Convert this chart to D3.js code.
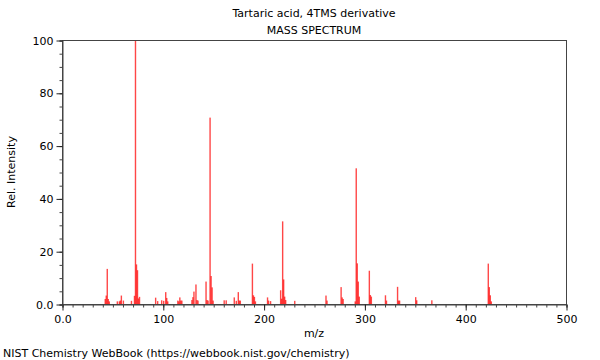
<!DOCTYPE html>
<html>
<head>
<meta charset="utf-8">
<script src="https://cdn.jsdelivr.net/npm/d3@7"></script>
<style>
body { margin: 0; background: #fff; }
text { font-family: "DejaVu Sans", sans-serif; }
</style>
</head>
<body>
<div id="chart"></div>
<script>
var mz = [43, 44, 45, 46, 47, 55, 57, 58, 59, 61, 69, 72, 73, 74, 75, 76, 77,
    93, 95, 99, 101, 103, 104, 105, 115, 116, 117, 118, 119, 129, 130, 131, 133, 134, 135,
    143, 144, 145, 147, 148, 149, 150, 161, 163, 171, 173, 175, 176, 177,
    189, 190, 191, 192, 204, 205, 207, 217, 218, 219, 220, 221, 222, 231,
    262, 263, 277, 278, 279, 291, 292, 293, 294, 295, 305, 306, 307,
    321, 322, 333, 334, 335, 351, 352, 367, 423, 424, 425, 426];
var intensity = [1.9, 3.2, 13.3, 1.9, 1.0, 1.0, 1.0, 1.3, 3.2, 1.3, 1.2, 3.1, 100, 15, 12.8, 2.1, 2.7,
    2.4, 1.1, 1.4, 1.2, 4.5, 2.3, 1.0, 1.3, 1.0, 2.5, 1.3, 1.3, 1.5, 2.6, 4.7, 7.4, 1.5, 1.3,
    8.5, 1.5, 1.3, 70.6, 10.6, 6.3, 1.3, 1.4, 1.4, 2.5, 1.2, 4.5, 1.3, 1.3,
    15.3, 3.3, 2.7, 1.0, 2.5, 1.3, 1.1, 5.2, 2.0, 31.3, 9.3, 2.8, 1.5, 1.2,
    3.2, 1.3, 6.4, 2.5, 1.9, 1.0, 51.4, 15.4, 8.5, 2.8, 12.6, 3.4, 2.8,
    3.3, 1.3, 6.5, 1.3, 1.3, 2.6, 1.4, 1.4, 15.3, 6.4, 3.3, 1.0];
var xTicks = [0, 100, 200, 300, 400, 500];
var xTickLabels = ["0.0", "100", "200", "300", "400", "500"];
var yTicks = [0, 20, 40, 60, 80, 100];
var yTickLabels = ["0.0", "20", "40", "60", "80", "100"];

var width = 600, height = 360;
var margin = { top: 40, left: 62, right: 34, bottom: 56 };
var plotW = width - margin.left - margin.right;
var plotH = height - margin.top - margin.bottom;

var svg = d3.select("#chart").append("svg")
    .attr("width", width)
    .attr("height", height);

var x = d3.scaleLinear().domain([0, 500]).range([margin.left, margin.left + plotW]);
var y = d3.scaleLinear().domain([0, 100]).range([margin.top + plotH, margin.top]);

// peaks
var peaks = mz.map(function(m, i) { return { m: m, v: intensity[i] }; });
svg.append("g")
    .selectAll("rect")
    .data(peaks)
    .enter()
    .append("rect")
    .attr("x", d => x(d.m) - 0.8)
    .attr("width", 1.4)
    .attr("y", d => y(d.v))
    .attr("height", d => y(0) - y(d.v))
    .attr("fill", "#ff0000")
    .attr("fill-opacity", 0.72);

// frame
svg.append("rect")
    .attr("x", margin.left + 0.5)
    .attr("y", margin.top + 0.5)
    .attr("width", plotW)
    .attr("height", plotH)
    .attr("fill", "none")
    .attr("stroke", "#444")
    .attr("stroke-width", 1);

// x axis
var xAxisMinor = d3.axisBottom(x).tickValues(d3.range(0, 501, 10)).tickSize(3).tickFormat("");
svg.append("g")
    .attr("transform", "translate(0.5," + (y(0) + 0.5) + ")")
    .call(xAxisMinor)
    .call(g => g.select(".domain").attr("stroke", "#444"))
    .call(g => g.selectAll(".tick line").attr("stroke", "#444"));

var xAxis = d3.axisBottom(x).tickValues(xTicks).tickSize(6)
    .tickFormat((d, i) => xTickLabels[i]);
svg.append("g")
    .attr("transform", "translate(0.5," + (y(0) + 0.5) + ")")
    .call(xAxis)
    .call(g => g.select(".domain").remove())
    .call(g => g.selectAll(".tick line").attr("stroke", "#222"))
    .call(g => g.selectAll(".tick text")
        .attr("font-size", 11).attr("font-family", "DejaVu Sans").attr("fill", "#000").attr("dy", "0.9em"));

// y axis
var yAxisMinor = d3.axisLeft(y).tickValues(d3.range(0, 101, 5)).tickSize(3).tickFormat("");
svg.append("g")
    .attr("transform", "translate(" + (x(0) + 0.5) + ",0.5)")
    .call(yAxisMinor)
    .call(g => g.select(".domain").attr("stroke", "#444"))
    .call(g => g.selectAll(".tick line").attr("stroke", "#444"));

var yAxis = d3.axisLeft(y).tickValues(yTicks).tickSize(6)
    .tickFormat((d, i) => yTickLabels[i]);
svg.append("g")
    .attr("transform", "translate(" + (x(0) + 0.5) + ",0.5)")
    .call(yAxis)
    .call(g => g.select(".domain").remove())
    .call(g => g.selectAll(".tick line").attr("stroke", "#222"))
    .call(g => g.selectAll(".tick text")
        .attr("font-size", 11).attr("font-family", "DejaVu Sans").attr("fill", "#000"));

// titles
svg.append("text")
    .attr("x", 314).attr("y", 17)
    .attr("text-anchor", "middle")
    .attr("font-size", 11)
    .text("Tartaric acid, 4TMS derivative");
svg.append("text")
    .attr("x", 314).attr("y", 34)
    .attr("text-anchor", "middle")
    .attr("font-size", 11)
    .text("MASS SPECTRUM");

svg.append("text")
    .attr("x", x(250)).attr("y", 337)
    .attr("text-anchor", "middle")
    .attr("font-size", 11)
    .text("m/z");

svg.append("text")
    .attr("transform", "translate(15," + y(50) + ") rotate(-90)")
    .attr("text-anchor", "middle")
    .attr("font-size", 11)
    .text("Rel. Intensity");

svg.append("text")
    .attr("x", 3).attr("y", 357)
    .attr("font-size", 11)
    .text("NIST Chemistry WebBook (https://webbook.nist.gov/chemistry)");
</script>
</body>
</html>
